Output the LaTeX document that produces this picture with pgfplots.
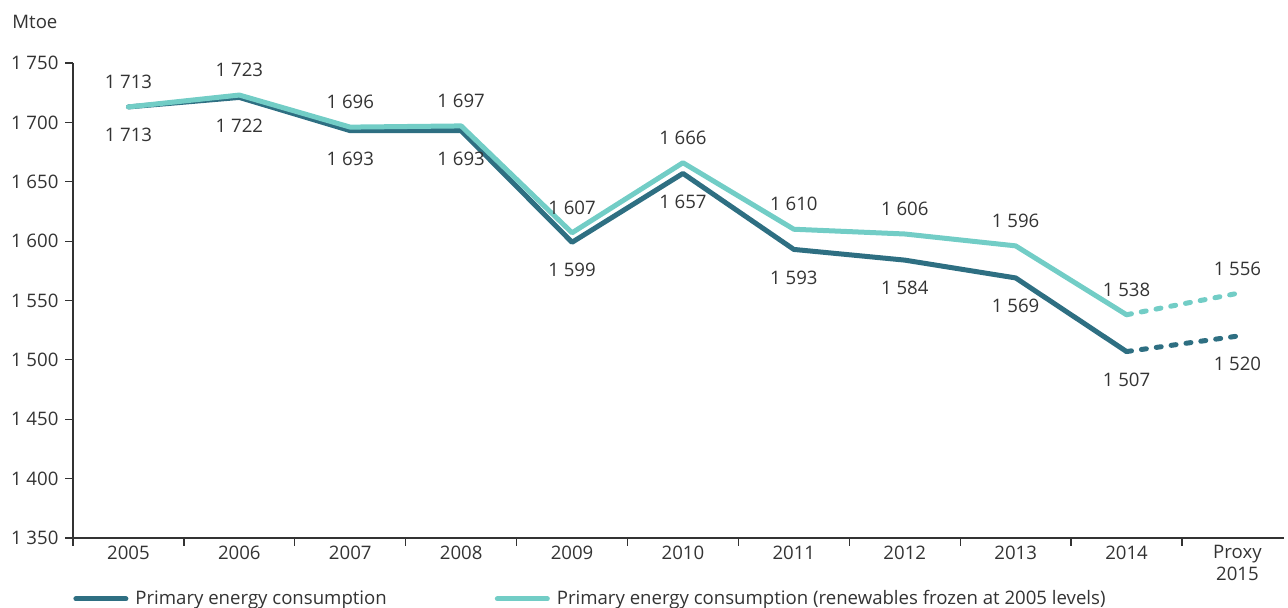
\documentclass[border=0pt]{standalone}
\usepackage{pgfplots}
\pgfplotsset{compat=1.18}
\usepackage{fontspec}
\setmainfont{Open Sans}
\definecolor{darkteal}{HTML}{2E6F82}
\definecolor{lightteal}{HTML}{72CDC6}
\definecolor{txt}{HTML}{333333}

\begin{document}
\fontsize{9.3}{11}\selectfont
\begin{tikzpicture}
\begin{axis}[
  at={(36.5pt,35pt)}, anchor=south west,
  scale only axis, width=605.5pt, height=237.5pt,
  xmin=-0.5, xmax=10.42, ymin=1350, ymax=1750,
  axis x line=bottom, axis y line=left,
  axis line style={-, txt, line width=0.6pt},
  clip=false,
  xtick={0,...,10},
  xticklabels={2005,2006,2007,2008,2009,2010,2011,2012,2013,2014,{Proxy\\2015}},
  x tick label style={align=center, text=txt, yshift=3.5pt},
  major x tick style={draw=none},
  minor xtick={-0.5,0.5,...,9.5},
  minor x tick style={txt, line width=0.6pt},
  minor tick length=4pt,
  ytick={1350,1400,...,1750},
  y tick style={txt, line width=0.6pt},
  major tick length=4pt,
  tick align=outside,
  y tick label style={text=txt, /pgf/number format/1000 sep={\ }, /pgf/number format/assume math mode=true},
  scaled y ticks=false,
  nodes near coords, point meta=explicit symbolic,
  legend style={at={(0.0,-0.128)}, anchor=west, draw=none, inner sep=0pt,
    legend columns=2, font=\fontsize{9.3}{11}\selectfont, text=txt,
    /tikz/every even column/.append style={column sep=52pt}},
  legend cell align=left,
  legend image code/.code={\draw[#1, line cap=round] (0pt,0pt) -- (25pt,0pt); \path (26.5pt,0pt);},
]
\addlegendimage{darkteal, line width=2.5pt}
\addlegendentry{Primary energy consumption}
\addlegendimage{lightteal, line width=2.5pt}
\addlegendentry{Primary energy consumption (renewables frozen at 2005 levels)}

\addplot[darkteal, line width=2.5pt, line join=round, line cap=round,
  nodes near coords style={anchor=center, yshift=-14pt, text=txt}]
  coordinates {(0,1713)[1 713] (1,1721)[1 722] (2,1693)[1 693] (3,1693)[1 693]
  (4,1599)[1 599] (5,1657)[1 657] (6,1593)[1 593] (7,1584)[1 584]
  (8,1569)[1 569] (9,1507)[1 507]};
\addplot[darkteal, line width=2.5pt, line cap=round, dash pattern=on 2.5pt off 5pt,
  nodes near coords style={anchor=center, yshift=-14pt, text=txt}]
  coordinates {(9,1507)[] (10,1520)[1 520]};

\addplot[lightteal, line width=2.5pt, line join=round, line cap=round,
  nodes near coords style={anchor=center, yshift=12.5pt, text=txt}]
  coordinates {(0,1713)[1 713] (1,1723)[1 723] (2,1696)[1 696] (3,1697)[1 697]
  (4,1607)[1 607] (5,1666)[1 666] (6,1610)[1 610] (7,1606)[1 606]
  (8,1596)[1 596] (9,1538)[1 538]};
\addplot[lightteal, line width=2.5pt, line cap=round, dash pattern=on 2.5pt off 5pt,
  nodes near coords style={anchor=center, yshift=12.5pt, text=txt}]
  coordinates {(9,1538)[] (10,1556)[1 556]};
\end{axis}
\node[anchor=west, text=txt, inner sep=0pt] at (6pt,293pt) {Mtoe};
\pgfresetboundingbox
\path[use as bounding box] (0,0) rectangle (644pt,304pt);
\end{tikzpicture}
\end{document}
